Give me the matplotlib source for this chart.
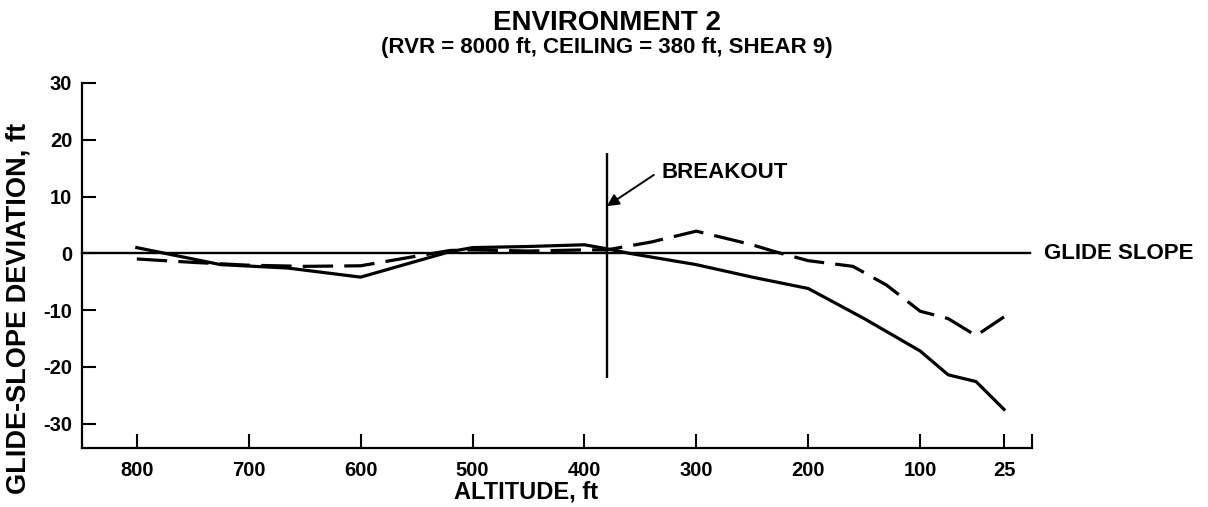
import matplotlib

matplotlib.use("Agg")
import matplotlib.pyplot as plt

plt.rcParams["font.family"] = ["Liberation Sans", "DejaVu Sans"]
plt.rcParams["font.weight"] = "bold"
plt.rcParams["axes.unicode_minus"] = False

# altitude (ft) and glide-slope deviation (ft)
solid_alt = [800, 725, 665, 600, 520, 500, 450, 400, 380, 360, 300, 250, 200, 150, 100, 75, 50, 25]
solid_dev = [1.0, -2.0, -2.6, -4.2, 0.3, 1.0, 1.2, 1.5, 0.8, 0.0, -2.0, -4.2, -6.2, -11.5, -17.2, -21.4, -22.6, -27.5]

dashed_alt = [800, 750, 700, 650, 600, 550, 520, 500, 450, 400, 380, 340, 300, 250, 230, 200, 160, 130, 100, 75, 50, 25]
dashed_dev = [-1.0, -1.6, -2.1, -2.3, -2.2, -0.5, 0.5, 0.6, 0.4, 0.6, 0.6, 2.0, 3.9, 1.5, 0.3, -1.3, -2.3, -5.6, -10.2, -11.5, -14.5, -11.2]

xticks = [800, 700, 600, 500, 400, 300, 200, 100, 25]
yticks = [-30, -20, -10, 0, 10, 20, 30]

breakout_alt = 380
breakout_span = (-22, 17.6)

W, H = 1208, 507
fig = plt.figure(figsize=(W / 100, H / 100), dpi=100)
ax = fig.add_axes([82 / W, 59 / H, 950 / W, 365 / H])

ax.plot(solid_alt, solid_dev, color="black", lw=2.3, solid_joinstyle="round")
ax.plot(dashed_alt, dashed_dev, color="black", lw=2.3, dashes=(9.5, 3.5))

# glide slope reference and breakout marker
ax.axhline(0, xmin=0, xmax=0.998, color="black", lw=1.7, clip_on=False)
ax.vlines(breakout_alt, *breakout_span, color="black", lw=1.7)
ax.annotate("", xy=(breakout_alt, 8.3), xytext=(338, 13.8),
            arrowprops=dict(arrowstyle="-|>", color="black", lw=1.4,
                            mutation_scale=18, shrinkA=0, shrinkB=0))
ax.text(331, 14.3, "BREAKOUT", fontsize=16, fontweight="bold", va="center", ha="left")
ax.text(1.013, 0, "GLIDE SLOPE", transform=ax.get_yaxis_transform(),
        fontsize=16, fontweight="bold", va="center", ha="left")

ax.set_xlim(849, 0)
ax.set_ylim(-34.3, 30)
ax.set_xticks(xticks)
ax.set_xticklabels([str(v) for v in xticks])
ax.set_xticks([0], minor=True)
ax.set_yticks(yticks)

for side in ("top", "right"):
    ax.spines[side].set_visible(False)
for side in ("left", "bottom"):
    ax.spines[side].set_linewidth(1.6)

ax.tick_params(which="both", direction="in", length=10, width=1.5, labelsize=14.5)
ax.tick_params(axis="x", pad=9)
ax.tick_params(axis="y", pad=7)

fig.text(607 / W, 1 - 30 / H, "ENVIRONMENT 2", ha="center", va="baseline",
         fontsize=20, fontweight="bold")
fig.text(607 / W, 1 - 53.5 / H, "(RVR = 8000 ft, CEILING = 380 ft, SHEAR 9)", ha="center",
         va="baseline", fontsize=16, fontweight="bold")
fig.text(526 / W, 1 - 498 / H, "ALTITUDE, ft", ha="center", va="baseline",
         fontsize=17, fontweight="bold")
fig.text(19 / W, 1 - 308 / H, "GLIDE-SLOPE DEVIATION, ft", rotation=90, ha="center",
         va="center", fontsize=19.5, fontweight="bold")

fig.savefig("out.png", dpi=100)
